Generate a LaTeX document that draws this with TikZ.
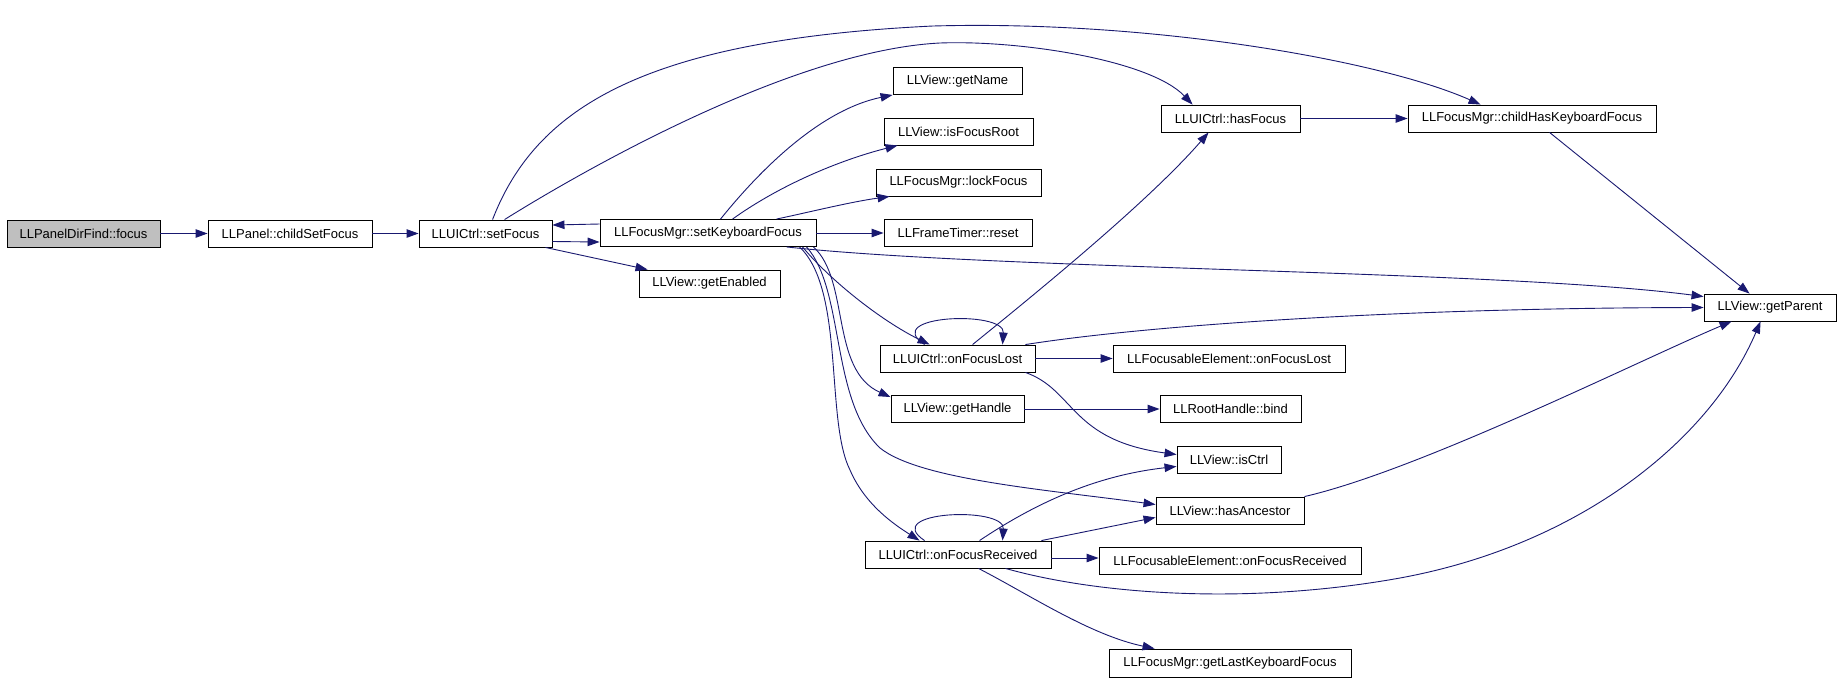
\documentclass[tikz,border=0pt]{standalone}
\usepackage{fontspec}
\setmainfont{Liberation Sans}
\usetikzlibrary{arrows.meta,calc}
\definecolor{mnb}{HTML}{191970}
\definecolor{grayfill}{HTML}{BFBFBF}
\begin{document}
\begin{tikzpicture}[x=1pt,y=-1pt,
  box/.style={draw=black,line width=0.9pt,inner sep=0pt,minimum height=27pt,fill=white,font=\fontsize{13}{15}\selectfont},
  edge/.style={draw=mnb,line width=0.9pt,-{Triangle[length=12pt,width=8.5pt]}}]
\useasboundingbox (0,0) rectangle (1840,681);
\fill[white] (0,0) rectangle (1840,681);
% nodes
\node[box,fill=grayfill,minimum width=153pt] (focus) at (83.5,233.5) {LLPanelDirFind::focus};
\node[box,minimum width=164pt] (childSetFocus) at (290,233.5) {LLPanel::childSetFocus};
\node[box,minimum width=133pt] (setFocus) at (485.5,233.5) {LLUICtrl::setFocus};
\node[box,minimum width=216pt] (skf) at (708,233) {LLFocusMgr::setKeyboardFocus};
\node[box,minimum width=129pt] (getName) at (957.5,81) {LLView::getName};
\node[box,minimum width=149pt] (isFocusRoot) at (958.5,131.5) {LLView::isFocusRoot};
\node[box,minimum width=165pt] (lockFocus) at (958.5,182.5) {LLFocusMgr::lockFocus};
\node[box,minimum width=148pt] (reset) at (958,233) {LLFrameTimer::reset};
\node[box,minimum width=141pt] (getEnabled) at (709.5,283.5) {LLView::getEnabled};
\node[box,minimum width=139pt] (hasFocus) at (1230.5,118.5) {LLUICtrl::hasFocus};
\node[box,minimum width=248pt] (chkf) at (1532,118.5) {LLFocusMgr::childHasKeyboardFocus};
\node[box,minimum width=132pt] (getParent) at (1770,307.5) {LLView::getParent};
\node[box,minimum width=155pt] (ofl) at (957.5,358.5) {LLUICtrl::onFocusLost};
\node[box,minimum width=232pt] (feofl) at (1229,358.5) {LLFocusableElement::onFocusLost};
\node[box,minimum width=133pt] (getHandle) at (957.5,409) {LLView::getHandle};
\node[box,minimum width=141pt] (bind) at (1230.5,409) {LLRootHandle::bind};
\node[box,minimum width=104pt] (isCtrl) at (1229,459.5) {LLView::isCtrl};
\node[box,minimum width=148pt] (hasAncestor) at (1230,510.5) {LLView::hasAncestor};
\node[box,minimum width=186pt] (ofr) at (958,554.5) {LLUICtrl::onFocusReceived};
\node[box,minimum width=262pt] (feofr) at (1230,561) {LLFocusableElement::onFocusReceived};
\node[box,minimum width=242pt,minimum height=28pt] (glkf) at (1230,663) {LLFocusMgr::getLastKeyboardFocus};
% edges
\draw[edge] (focus) -- (childSetFocus);
\draw[edge] (childSetFocus) -- (setFocus);
\draw[edge] ($(setFocus.east)+(0,8)$) -- ($(skf.west)+(0,9)$);
\draw[edge] ($(skf.west)+(0,-9)$) -- ($(setFocus.east)+(0,-8.5)$);
\draw[edge] ($(setFocus.south east)+(-7,0)$) -- ($(getEnabled.north west)+(9,0)$);
\draw[edge] ($(setFocus.north west)+(86,0)$) .. controls (600,160) and (800,50) .. (940,43)
  .. controls (1020,40) and (1150,60) .. ($(hasFocus.north west)+(32,0)$);
\draw[edge] ($(setFocus.north west)+(74,0)$) .. controls (535,110) and (640,40) .. (933,26)
  .. controls (1150,20) and (1380,60) .. ($(chkf.north west)+(73,0)$);
\draw[edge] (hasFocus) -- (chkf);
\draw[edge] ($(chkf.south west)+(142,0)$) -- ($(getParent.north west)+(46,0)$);
\draw[edge] ($(skf.north west)+(121,0)$) .. controls (760,170) and (820,110) .. (getName.south west);
\draw[edge] ($(skf.north west)+(133,0)$) .. controls (780,185) and (840,160) .. ($(isFocusRoot.south west)+(14,0)$);
\draw[edge] ($(skf.north west)+(177,0)$) .. controls (810,212) and (850,202) .. ($(lockFocus.south west)+(14,0)$);
\draw[edge] (skf) -- (reset);
\draw[edge] ($(skf.south west)+(187,0)$) .. controls (1000,270) and (1500,270) .. ($(getParent.north west)+(0,3)$);
\draw[edge] ($(ofl.north east)+(-10,0)$) .. controls (1150,325) and (1400,308) .. (getParent.west);
\draw[edge] (ofl) -- (feofl);
\draw[edge] ($(ofl.south east)+(-10,0)$) .. controls (1075,390) and (1070,440) .. ($(isCtrl.north west)+(0,9)$);
\draw[edge] ($(ofl.north west)+(93,0)$) .. controls (1040,290) and (1150,200) .. ($(hasFocus.south west)+(48,0)$);
\draw[edge] ($(ofl.north west)+(45,0)$) .. controls (880,315) and (1005,310) .. ($(ofl.north west)+(123,0)$);
\draw[edge] ($(skf.south west)+(203,0)$) .. controls (830,280) and (880,320) .. ($(ofl.north west)+(50,0)$);
\draw[edge] ($(skf.south east)+(-3,0)$) .. controls (850,280) and (830,370) .. ($(getHandle.north west)+(0,2)$);
\draw[edge] ($(skf.south west)+(207,0)$) .. controls (845,290) and (830,400) .. (880,448)
  .. controls (920,480) and (1050,490) .. ($(hasAncestor.north west)+(0,8)$);
\draw[edge] ($(skf.south west)+(200,0)$) .. controls (845,290) and (825,420) .. (850,470)
  .. controls (865,505) and (895,525) .. ($(ofr.north west)+(55,0)$);
\draw[edge] ($(ofr.north west)+(60,0)$) .. controls (880,511) and (1005,506) .. ($(ofr.north west)+(138,0)$);
\draw[edge] ($(ofr.north west)+(115,0)$) .. controls (1040,500) and (1100,475) .. ($(isCtrl.south west)+(0,-7)$);
\draw[edge] ($(ofr.north east)+(-10,0)$) -- ($(hasAncestor.south west)+(0,-7)$);
\draw[edge] ($(ofr.east)+(0,3.5)$) -- ($(feofr.west)+(0,-3)$);
\draw[edge] ($(ofr.south west)+(141,0)$) .. controls (1100,595) and (1250,605) .. (1400,578)
  .. controls (1580,545) and (1710,440) .. ($(getParent.south west)+(57,0)$);
\draw[edge] (hasAncestor.north east) .. controls (1420,470) and (1640,360) .. ($(getParent.south west)+(28,0)$);
\draw[edge] (getHandle) -- (bind);
\draw[edge] ($(ofr.south west)+(114,0)$) .. controls (1030,595) and (1090,635) .. ($(glkf.north west)+(46,0)$);
\end{tikzpicture}
\end{document}
